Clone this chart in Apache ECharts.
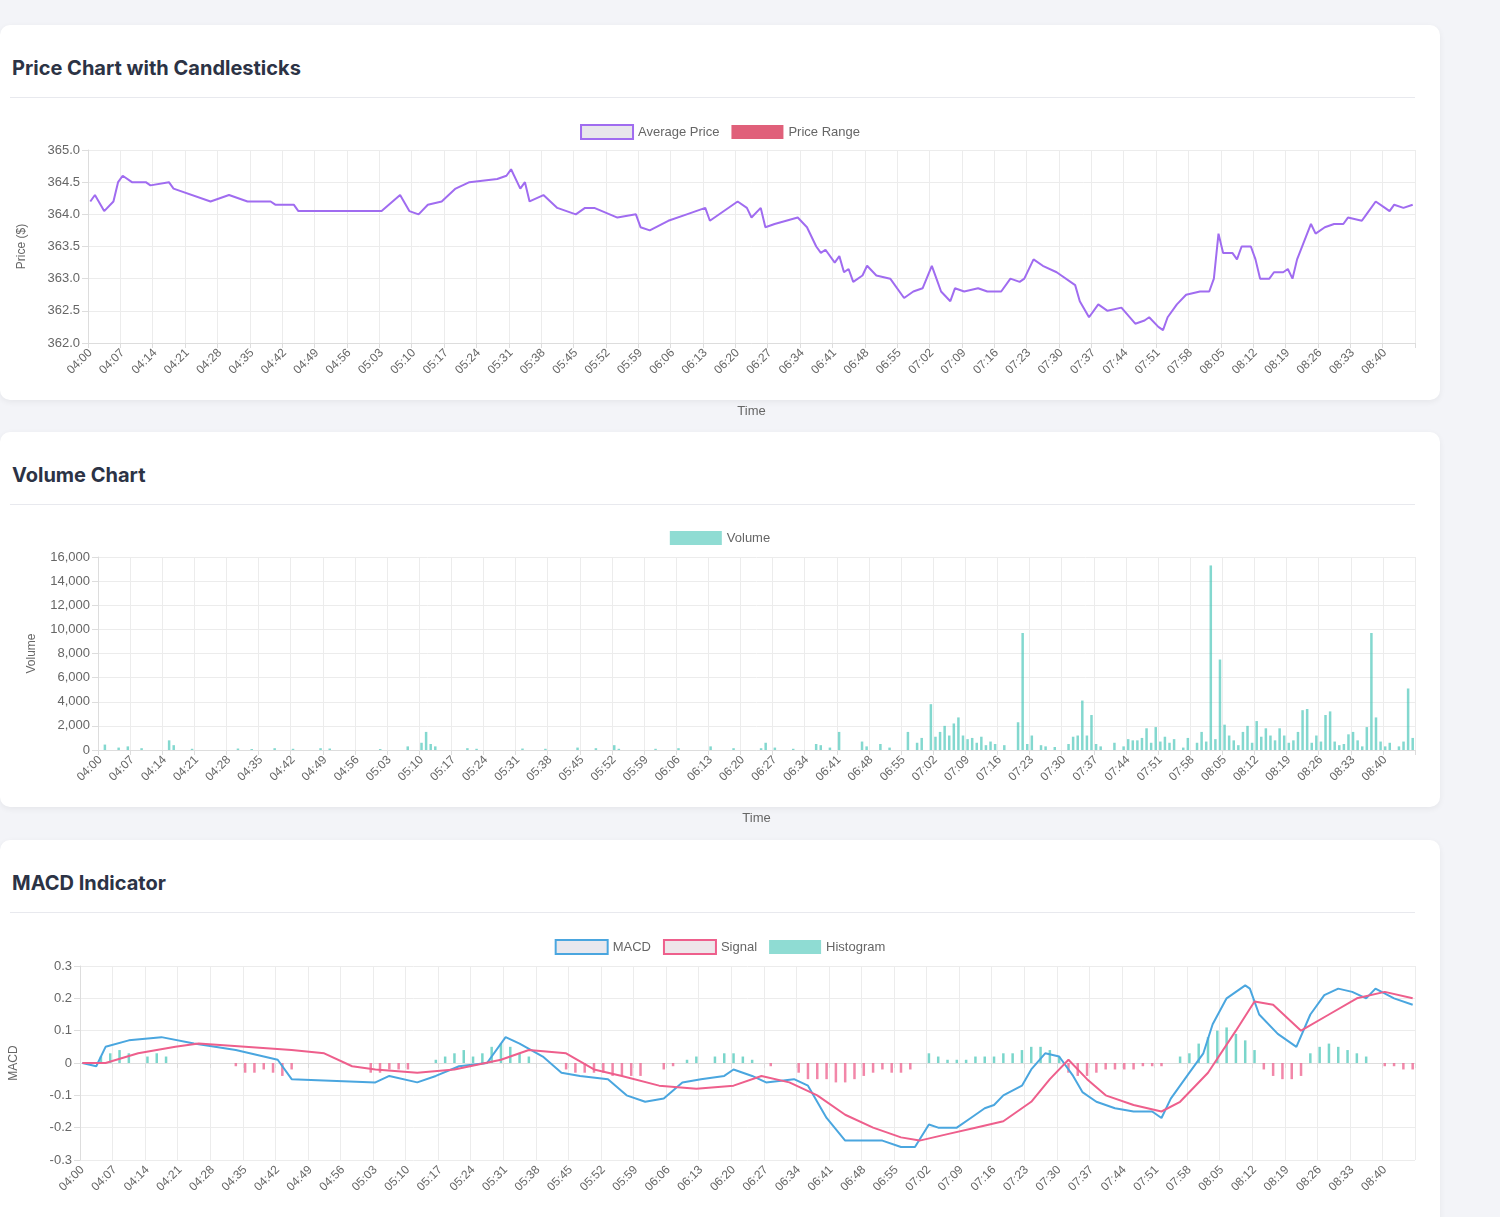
<!DOCTYPE html>
<html>
<head>
<meta charset="utf-8">
<script src="https://cdn.jsdelivr.net/npm/echarts@6/dist/echarts.min.js"></script>
<style>
  body { margin: 0; background: #f3f4f8; font-family: Inter, "Noto Sans", sans-serif; }
  .card { position: absolute; left: 0; width: 1440px; background: #fff; border-radius: 10px; box-shadow: 0 2px 6px rgba(0,0,0,0.06); }
  .card h2 { margin: 0; position: absolute; left: 12px; top: 31px; font-size: 20px; font-weight: 700; color: #2c3345; }
  .card .sep { position: absolute; left: 10px; right: 25px; top: 72px; border-top: 1px solid #e8e9ee; }
  .chart { position: absolute; left: 0; top: 80px; width: 1440px; height: 320px; }
</style>
</head>
<body>
<div class="card" style="top:25px;height:375px"><h2>Price Chart with Candlesticks</h2><div class="sep"></div><div id="price" class="chart"></div></div>
<div class="card" style="top:432px;height:375px"><h2>Volume Chart</h2><div class="sep"></div><div id="volume" class="chart"></div></div>
<div class="card" style="top:840px;height:400px"><h2>MACD Indicator</h2><div class="sep"></div><div id="macd" class="chart" style="height:340px"></div></div>
<script>
// time categories, one per minute 04:00 .. 08:46
var times = [];
for (var m = 0; m <= 286; m++) {
    var h = 4 + Math.floor(m / 60), mm = m % 60;
    times.push('0' + h + ':' + (mm < 10 ? '0' : '') + mm);
}

// [minute index, value]
var avgPrice = [[0,364.2],[1,364.3],[3,364.05],[5,364.2],[6,364.5],[7,364.6],[9,364.5],[12,364.5],[13,364.45],[17,364.5],[18,364.4],[26,364.2],[30,364.3],[34,364.2],[39,364.2],[40,364.15],[44,364.15],[45,364.05],[63,364.05],[67,364.3],[69,364.05],[71,364.0],[73,364.15],[76,364.2],[79,364.4],[82,364.5],[88,364.55],[90,364.6],[91,364.7],[93,364.4],[94,364.5],[95,364.2],[98,364.3],[101,364.1],[105,364.0],[107,364.1],[109,364.1],[114,363.95],[118,364.0],[119,363.8],[121,363.75],[125,363.9],[129,364.0],[133,364.1],[134,363.9],[140,364.2],[142,364.1],[143,363.95],[145,364.1],[146,363.8],[148,363.85],[153,363.95],[155,363.8],[157,363.5],[158,363.4],[159,363.45],[161,363.25],[162,363.35],[163,363.1],[164,363.15],[165,362.95],[167,363.05],[168,363.2],[170,363.05],[173,363.0],[176,362.7],[178,362.8],[180,362.85],[182,363.2],[183,363.0],[184,362.8],[186,362.65],[187,362.85],[189,362.8],[192,362.85],[194,362.8],[197,362.8],[199,363.0],[201,362.95],[202,363.0],[204,363.3],[206,363.2],[209,363.1],[213,362.9],[214,362.65],[216,362.4],[218,362.6],[220,362.5],[223,362.55],[226,362.3],[228,362.35],[229,362.4],[231,362.25],[232,362.2],[233,362.4],[235,362.6],[237,362.75],[240,362.8],[242,362.8],[243,363.0],[244,363.7],[245,363.4],[247,363.4],[248,363.3],[249,363.5],[251,363.5],[252,363.3],[253,363.0],[255,363.0],[256,363.1],[258,363.1],[259,363.15],[260,363.0],[261,363.3],[264,363.85],[265,363.7],[267,363.8],[269,363.85],[271,363.85],[272,363.95],[275,363.9],[276,364.0],[278,364.2],[280,364.1],[281,364.05],[282,364.15],[284,364.1],[286,364.15]];

var volume = [[1,450],[4,200],[6,300],[9,150],[15,800],[16,400],[20,100],[30,120],[33,80],[38,150],[42,100],[48,150],[50,120],[61,80],[67,300],[70,600],[71,1500],[72,500],[73,300],[80,150],[82,100],[92,120],[97,100],[104,200],[108,150],[112,400],[113,100],[121,100],[126,150],[133,300],[138,150],[144,150],[145,600],[147,200],[151,100],[156,500],[157,400],[159,200],[161,1500],[166,700],[167,300],[170,500],[172,200],[176,1500],[178,600],[179,1000],[182,1100],[181,3800],[183,1500],[184,2000],[185,1200],[186,2200],[187,2700],[188,1200],[189,900],[190,1000],[191,600],[192,1100],[193,400],[194,700],[195,500],[197,400],[200,2300],[201,9700],[202,500],[203,1200],[205,400],[206,300],[208,250],[211,500],[212,1100],[213,1200],[214,4100],[215,1200],[216,2900],[217,500],[218,300],[221,600],[223,300],[224,900],[225,800],[226,800],[227,1000],[228,1800],[229,600],[230,1900],[231,700],[232,1100],[233,600],[234,900],[236,200],[237,1000],[239,600],[240,1500],[241,700],[242,15300],[243,900],[244,7500],[245,2100],[246,1200],[247,800],[248,400],[249,1500],[250,2000],[251,600],[252,2400],[253,1100],[254,1800],[255,1200],[256,800],[257,1800],[258,1200],[259,600],[260,800],[261,1500],[262,3300],[263,3400],[264,600],[265,1200],[266,700],[267,2900],[268,3200],[269,700],[270,400],[271,500],[272,1300],[273,1500],[274,800],[275,300],[276,1900],[277,9700],[278,2700],[279,700],[280,300],[281,600],[283,300],[284,700],[285,5100],[286,1000]];

var macd = [[0,0],[3,-0.01],[5,0.05],[10,0.07],[17,0.08],[24,0.06],[33,0.04],[42,0.01],[45,-0.05],[63,-0.06],[66,-0.04],[72,-0.06],[76,-0.04],[81,-0.01],[87,0.0],[91,0.08],[94,0.06],[99,0.02],[103,-0.03],[107,-0.04],[113,-0.05],[117,-0.1],[121,-0.12],[125,-0.11],[129,-0.06],[133,-0.05],[138,-0.04],[140,-0.02],[144,-0.04],[147,-0.06],[153,-0.05],[156,-0.07],[160,-0.17],[164,-0.24],[172,-0.24],[176,-0.26],[179,-0.26],[182,-0.19],[184,-0.2],[188,-0.2],[191,-0.17],[194,-0.14],[196,-0.13],[198,-0.1],[202,-0.07],[204,-0.02],[207,0.03],[210,0.02],[213,-0.04],[215,-0.09],[218,-0.12],[222,-0.14],[226,-0.15],[230,-0.15],[232,-0.17],[234,-0.11],[238,-0.03],[241,0.03],[243,0.12],[246,0.2],[250,0.24],[251,0.23],[253,0.15],[257,0.09],[261,0.05],[264,0.15],[267,0.21],[270,0.23],[273,0.22],[276,0.2],[278,0.23],[282,0.2],[286,0.18]];

var signal = [[0,0],[5,0],[12,0.03],[20,0.05],[25,0.06],[35,0.05],[45,0.04],[52,0.03],[58,-0.01],[63,-0.02],[72,-0.03],[80,-0.02],[90,0.01],[96,0.04],[104,0.03],[110,-0.02],[116,-0.04],[124,-0.07],[132,-0.08],[140,-0.07],[146,-0.04],[152,-0.06],[158,-0.1],[164,-0.16],[170,-0.2],[176,-0.23],[180,-0.24],[186,-0.22],[192,-0.2],[198,-0.18],[204,-0.12],[208,-0.05],[212,0.01],[216,-0.05],[220,-0.1],[226,-0.13],[232,-0.15],[236,-0.12],[242,-0.03],[248,0.1],[252,0.19],[256,0.18],[262,0.1],[268,0.15],[274,0.2],[280,0.22],[286,0.2]];

var histogram = [[4,0.02],[6,0.03],[8,0.04],[10,0.03],[14,0.02],[16,0.03],[18,0.02],[33,-0.01],[35,-0.03],[37,-0.03],[39,-0.02],[41,-0.03],[43,-0.04],[45,-0.02],[62,-0.03],[64,-0.03],[66,-0.02],[68,-0.02],[70,-0.02],[76,0.01],[78,0.02],[80,0.03],[82,0.04],[84,0.02],[86,0.03],[88,0.05],[90,0.06],[92,0.05],[94,0.03],[96,0.02],[104,-0.02],[106,-0.03],[108,-0.03],[110,-0.03],[112,-0.03],[114,-0.04],[116,-0.04],[118,-0.04],[120,-0.04],[125,-0.02],[127,-0.01],[130,0.01],[132,0.02],[136,0.02],[138,0.03],[140,0.03],[142,0.02],[144,0.01],[148,-0.01],[154,-0.03],[156,-0.05],[158,-0.05],[160,-0.05],[162,-0.06],[164,-0.06],[166,-0.05],[168,-0.04],[170,-0.03],[172,-0.02],[174,-0.03],[176,-0.03],[178,-0.02],[182,0.03],[184,0.02],[186,0.01],[188,0.01],[190,0.01],[192,0.02],[194,0.02],[196,0.02],[198,0.03],[200,0.03],[202,0.04],[204,0.05],[206,0.05],[208,0.04],[210,0.02],[212,-0.03],[214,-0.04],[216,-0.04],[218,-0.03],[220,-0.02],[222,-0.02],[224,-0.02],[226,-0.02],[228,-0.01],[230,-0.01],[232,-0.01],[236,0.02],[238,0.03],[240,0.06],[242,0.08],[244,0.1],[246,0.11],[248,0.09],[250,0.07],[252,0.04],[254,-0.02],[256,-0.04],[258,-0.05],[260,-0.05],[262,-0.04],[264,0.03],[266,0.05],[268,0.06],[270,0.05],[272,0.04],[274,0.03],[276,0.02],[280,-0.01],[282,-0.01],[284,-0.02],[286,-0.02]];

var txt = '#666';
var font = 'Liberation Sans, Arial, sans-serif';

function xAxis() {
    return {
        type: 'category', data: times, boundaryGap: true, name: 'Time', nameLocation: 'middle', nameGap: 62,
        nameTextStyle: { color: txt, fontSize: 13, fontFamily: font },
        axisLine: { lineStyle: { color: '#ddd' } },
        axisTick: { show: true, interval: 6, lineStyle: { color: '#ddd' } },
        axisLabel: { interval: 6, rotate: 45, color: txt, fontSize: 12, fontFamily: font },
        splitLine: { show: true, interval: 6, lineStyle: { color: '#ececec' } }
    };
}
function yAxis(name, min, max, interval, fmt) {
    return {
        type: 'value', min: min, max: max, interval: interval, name: name,
        nameLocation: 'middle', nameGap: 60, nameTextStyle: { color: txt, fontSize: 12, fontFamily: font },
        axisLine: { show: true, lineStyle: { color: '#ddd' } }, axisTick: { show: true, length: 6, lineStyle: { color: '#ddd' } },
        axisLabel: { color: txt, fontSize: 13, fontFamily: font, formatter: fmt },
        splitLine: { lineStyle: { color: '#ececec' } }
    };
}
function legend(items) {
    return { top: 14, left: 'center', itemWidth: 52, itemHeight: 14, itemGap: 12, icon: 'rect',
        textStyle: { color: txt, fontSize: 13, fontFamily: font }, data: items };
}

var price = echarts.init(document.getElementById('price'));
price.setOption({
    animation: false,
    legend: legend([
        { name: 'Average Price', itemStyle: { color: '#e8e6ec', borderColor: '#a06cf0', borderWidth: 2 } },
        { name: 'Price Range', itemStyle: { color: '#e0607a' } }
    ]),
    grid: { left: 88, right: 25, top: 45, bottom: 82 },
    xAxis: xAxis(),
    yAxis: yAxis('Price ($)', 362, 365, 0.5, function (v) { return v.toFixed(1); }),
    series: [
        { name: 'Average Price', type: 'line', data: avgPrice, connectNulls: true, showSymbol: false,
          lineStyle: { color: '#a06cf0', width: 2 }, itemStyle: { color: '#a06cf0' } },
        { name: 'Price Range', type: 'bar', data: [], itemStyle: { color: '#e0607a' } }
    ]
});

var vol = echarts.init(document.getElementById('volume'));
vol.setOption({
    animation: false,
    legend: legend([{ name: 'Volume', itemStyle: { color: '#8fdcd3' } }]),
    grid: { left: 98, right: 25, top: 45, bottom: 82 },
    xAxis: xAxis(),
    yAxis: yAxis('Volume', 0, 16000, 2000, function (v) { return v.toLocaleString('en-US'); }),
    series: [{ name: 'Volume', type: 'bar', data: volume, barWidth: 2.5,
        itemStyle: { color: 'rgba(78,200,186,0.7)' } }]
});

var mc = echarts.init(document.getElementById('macd'));
mc.setOption({
    animation: false,
    legend: legend([
        { name: 'MACD', itemStyle: { color: '#e8e8ee', borderColor: '#4aa6df', borderWidth: 2 } },
        { name: 'Signal', itemStyle: { color: '#eee6ea', borderColor: '#ee5f8c', borderWidth: 2 } },
        { name: 'Histogram', itemStyle: { color: '#8fdcd3' } }
    ]),
    grid: { left: 78, right: 25, top: 46, bottom: 100 },
    xAxis: (function () { var a = xAxis(); a.name = ''; return a; })(),
    yAxis: yAxis('MACD', -0.3, 0.3, 0.1, function (v) { return v === 0 ? '0' : v.toFixed(1); }),
    series: [
        { name: 'MACD', type: 'line', data: macd, showSymbol: false, z: 3,
          lineStyle: { color: '#4aa6df', width: 2 }, itemStyle: { color: '#4aa6df' } },
        { name: 'Signal', type: 'line', data: signal, showSymbol: false, z: 3,
          lineStyle: { color: '#ee5f8c', width: 2 }, itemStyle: { color: '#ee5f8c' } },
        { name: 'Histogram', type: 'bar', data: histogram, barWidth: 2.5,
          itemStyle: { color: function (p) { return p.value[1] >= 0 ? 'rgba(78,200,186,0.75)' : 'rgba(238,95,140,0.75)'; } } }
    ]
});
</script>
</body>
</html>
